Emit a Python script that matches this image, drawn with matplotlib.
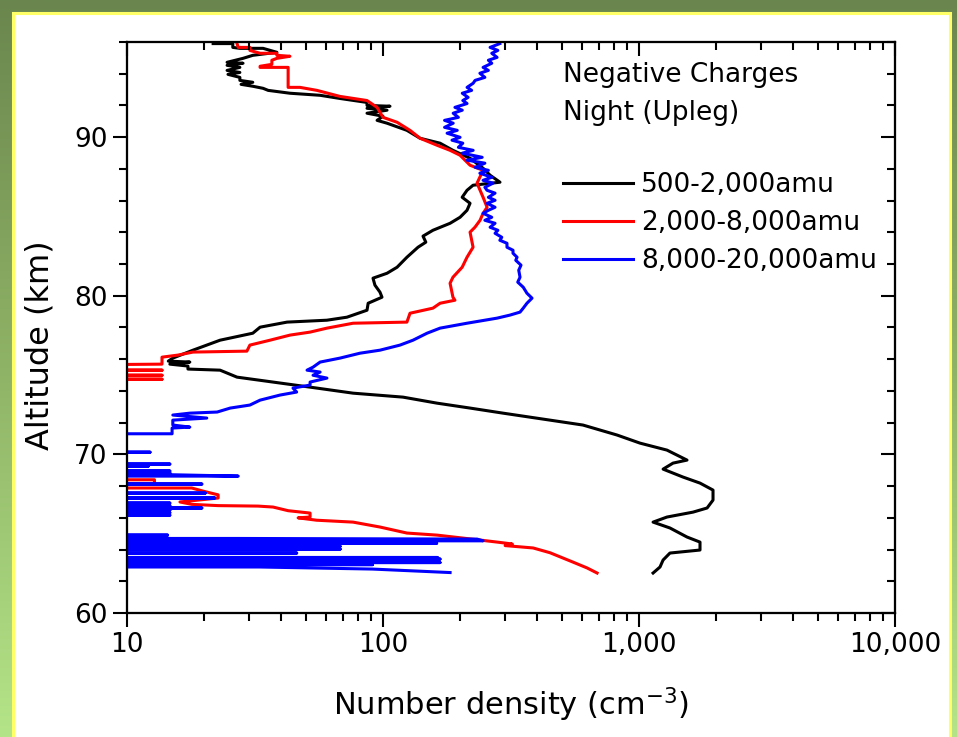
import numpy as np
import matplotlib
matplotlib.use("Agg")
import matplotlib.pyplot as plt
from matplotlib.colors import LinearSegmentedColormap
from matplotlib.patches import Rectangle
from matplotlib.ticker import FuncFormatter, MultipleLocator, NullFormatter

# (density cm^-3, altitude km); values below 10 are off-axis (drop-outs)
black_500_2000 = [
    (21.7, 95.9), (25.9, 95.9), (25.9, 95.66), (27.6, 95.6), (34.0, 95.6), (38.5, 95.35),
    (31.0, 95.16), (28.4, 94.97), (24.6, 94.72), (28.4, 94.66), (24.6, 94.53), (27.6, 94.40),
    (24.6, 94.21), (27.6, 94.08), (24.8, 93.96), (27.6, 93.77), (27.6, 93.58), (31.0, 93.46),
    (27.9, 93.33), (31.0, 93.21), (34.0, 93.08), (35.6, 92.95), (43.3, 92.77), (56.8, 92.64),
    (67.9, 92.44), (86.6, 92.19), (86.6, 92.0), (106.5, 91.95), (86.6, 91.82), (103.7, 91.70),
    (86.6, 91.51), (100, 91.32), (94.8, 91.06), (103.7, 90.88), (124, 90.43), (139.6, 89.93),
    (167.1, 89.62), (187.6, 89.17), (218.8, 88.67), (246, 88.04), (262, 87.60), (286.4, 87.16),
    (224.8, 86.97), (212.9, 86.65), (203.8, 86.21), (218.8, 85.83), (212.9, 85.39), (200, 84.95),
    (182.8, 84.57), (156.7, 84.13), (143.3, 83.76), (147, 83.38), (137, 83.06), (124, 82.43),
    (113.5, 81.80), (103.7, 81.42), (91.4, 81.11), (93, 80.67), (97.3, 80.23), (99.1, 79.91),
    (87.5, 79.53), (86.6, 79.09), (72.3, 78.65), (60.4, 78.46), (42.2, 78.34), (33.1, 78.02),
    (31.0, 77.64), (23.1, 77.20), (18.1, 76.57), (15.1, 76.07), (14.5, 75.88), (17.6, 75.82),
    (14.7, 75.69), (17.3, 75.57), (17.3, 75.38), (23.1, 75.31), (26.9, 74.87), (51.9, 74.24),
    (76.4, 73.86), (119.7, 73.61), (162.6, 73.23), (218.8, 72.92), (294.4, 72.60), (449, 72.16),
    (604, 71.85), (821, 71.22), (1009, 70.71), (1286, 70.27), (1540, 69.64), (1358, 69.45),
    (1242, 69.07), (1486, 68.57), (1731, 68.19), (1946, 67.75), (1946, 67.12), (1845, 66.62),
    (1626, 66.36), (1286, 66.05), (1135, 65.73), (1321, 65.36), (1540, 64.79), (1731, 64.47),
    (1731, 63.97), (1321, 63.78), (1242, 63.34), (1208, 62.90), (1135, 62.52),
]

red_2000_8000 = [
    (26.9, 95.9), (27.2, 95.66), (30.2, 95.66), (30.2, 95.47), (33.1, 95.29), (38.5, 95.29),
    (38.5, 95.16), (43.3, 95.10), (38.5, 94.97), (36.8, 94.85), (36.8, 94.59), (33.1, 94.47),
    (33.1, 94.40), (42.6, 94.40), (42.6, 93.14), (47.4, 93.14), (55.2, 92.95), (67.9, 92.57),
    (86.6, 92.31), (94.8, 91.88), (100, 91.25), (113.5, 90.94), (127.5, 90.43), (139.6, 89.93),
    (162.6, 89.49), (182.8, 89.17), (200, 88.86), (218.8, 88.23), (246, 87.91), (233, 87.10),
    (246, 86.21), (255, 85.58), (246, 85.20), (239.4, 84.76), (228.6, 84.32), (218.8, 84.01),
    (224.8, 83.06), (212.9, 82.43), (203.8, 81.80), (187.6, 81.17), (182.8, 80.79), (187.6, 79.91),
    (191, 79.72), (167.1, 79.53), (156.7, 79.22), (127.5, 78.90), (124, 78.34), (76.4, 78.27),
    (60.4, 77.96), (51.9, 77.71), (43.3, 77.52), (36.2, 77.20), (30.2, 76.89), (29.4, 76.51),
    (18.1, 76.45), (15.8, 76.26), (13.7, 76.13), (13.7, 75.69), (5, 75.63),
    (5, 75.31), (13.7, 75.31), (5, 75.31), (5, 74.99), (13.7, 74.99), (5, 74.99),
    (5, 74.74), (13.7, 74.74), (5, 74.74),
    (5, 68.40), (12.8, 68.40), (12.8, 68.15), (5, 68.15), (5, 67.88), (17.9, 67.88),
    (20.2, 67.65), (22.7, 67.45), (22.7, 67.25), (16.1, 67.0), (17.9, 66.85), (22.7, 66.77),
    (32.5, 66.74), (37.2, 66.68), (42.6, 66.45), (51.9, 66.30), (51.9, 66.05), (46.6, 66.0),
    (55, 65.85), (76.4, 65.73), (97.3, 65.42), (124, 65.04), (162.6, 64.91), (239, 64.60),
    (286, 64.45), (320, 64.35), (300, 64.25), (386, 64.10), (449, 63.80), (552, 63.21),
    (627, 62.84), (686, 62.52),
]

blue_8000_20000 = [
    (286, 95.9), (262, 95.66), (281, 95.47), (266, 95.29), (279, 95.03), (258, 94.85),
    (266, 94.66), (246, 94.40), (258, 94.21), (239, 94.03), (250, 93.77), (229, 93.58),
    (225, 93.40), (213, 93.14), (222, 92.95), (204, 92.77), (215, 92.51), (205, 92.31),
    (213, 92.12), (191, 91.88), (204, 91.70), (188, 91.51), (197, 91.25), (174, 91.06),
    (188, 90.88), (174, 90.62), (195, 90.43), (178, 90.25), (200, 89.99), (186, 89.81),
    (205, 89.62), (197, 89.36), (225, 89.17), (204, 88.99), (244, 88.73), (213, 88.55),
    (250, 88.36), (229, 88.10), (258, 87.91), (239, 87.73), (266, 87.47), (246, 87.28),
    (269, 87.10), (250, 86.84), (255, 86.65), (274, 86.47), (258, 86.21), (274, 86.02),
    (255, 85.83), (274, 85.58), (258, 85.39), (246, 85.20), (266, 84.95), (250, 84.76),
    (274, 84.57), (262, 84.32), (281, 84.13), (274, 83.94), (291, 83.69), (286, 83.50),
    (305, 83.31), (305, 83.06), (322, 82.87), (322, 82.68), (334, 82.43), (330, 82.24),
    (346, 81.93), (339, 81.61), (343, 81.17), (336, 80.86), (353, 80.54), (365, 80.16),
    (382, 79.85), (365, 79.53), (353, 79.22), (343, 78.97), (313, 78.78), (279, 78.59),
    (212.9, 78.27), (167.1, 77.96), (148.6, 77.64), (131, 77.20), (116.5, 76.89), (97.3, 76.57),
    (81.3, 76.38), (67.9, 76.07), (56.8, 75.82), (53.3, 75.50), (50.5, 75.31), (56.8, 75.19),
    (53.3, 74.99), (60.4, 74.81), (51.9, 74.56), (51.9, 74.37), (44.5, 74.18), (46, 73.93),
    (39.6, 73.74), (33.1, 73.42), (30.2, 73.11), (25.3, 72.92), (22.5, 72.67), (17.6, 72.60),
    (15.1, 72.48), (20.5, 72.29), (15.1, 72.16), (15.1, 71.85), (17.6, 71.72), (15.0, 71.66),
    (15.0, 71.30), (5, 71.30),
    (5, 70.14), (12.3, 70.14), (5, 70.14), (5, 69.39), (14.7, 69.39), (5, 69.39),
    (5, 69.26), (12.1, 69.26), (5, 69.26), (5, 68.95), (14.7, 68.95), (5, 68.95),
    (5, 68.84), (14.7, 68.84), (5, 68.84), (5, 68.72), (14.7, 68.72), (27.2, 68.63), (5, 68.63),
    (5, 68.13), (19.6, 68.13), (5, 68.13), (5, 67.56), (20.2, 67.56), (5, 67.56),
    (5, 67.25), (22.0, 67.25), (5, 67.25), (5, 66.93), (14.7, 66.93), (5, 66.93),
    (5, 66.78), (14.7, 66.78), (5, 66.78), (5, 66.62), (19.6, 66.62), (5, 66.62),
    (5, 66.47), (14.7, 66.47), (5, 66.47), (5, 66.32), (14.7, 66.32), (5, 66.32),
    (5, 66.17), (14.7, 66.17), (5, 66.17),
    (5, 64.91), (14.4, 64.91), (5, 64.91), (5, 64.70), (27, 64.70), (233, 64.66), (246, 64.55),
    (5, 64.55), (5, 64.40), (162, 64.40), (5, 64.40), (5, 64.20), (68, 64.20), (5, 64.20),
    (5, 64.03), (68, 64.03), (5, 64.03), (5, 63.78), (46, 63.78), (5, 63.78),
    (5, 63.50), (163, 63.50), (5, 63.50), (5, 63.40), (167, 63.40), (5, 63.40),
    (5, 63.30), (160, 63.30), (5, 63.30), (5, 63.18), (167, 63.18), (5, 63.18),
    (5, 63.05), (91, 63.05), (5, 63.05), (5, 62.90), (33, 62.90), (91, 62.77), (182.8, 62.55),
]

series = [
    (black_500_2000, "#000000", "500-2,000amu"),
    (red_2000_8000, "#ff0000", "2,000-8,000amu"),
    (blue_8000_20000, "#0000ff", "8,000-20,000amu"),
]

W, H = 957, 737
fig = plt.figure(figsize=(W / 100, H / 100), dpi=100)

# green slide background with white panel and yellow border
bg = fig.add_axes([0, 0, 1, 1], zorder=-10)
cmap = LinearSegmentedColormap.from_list("slide", ["#6a864e", "#8fb366", "#b4e488"])
bg.imshow(np.linspace(0, 1, 256).reshape(-1, 1), cmap=cmap, aspect="auto", extent=[0, 1, 0, 1])
bg.axis("off")
panel = Rectangle((12.5 / W, -0.02), (949.5 - 12.5) / W, (H - 12.5) / H + 0.02,
                  transform=fig.transFigure, facecolor="white", edgecolor="#ffff66",
                  linewidth=2.2, zorder=-5)
fig.add_artist(panel)

ax = fig.add_axes([127 / W, 1 - 613 / H, 768 / W, 571 / H])
for pts, color, label in series:
    d, a = zip(*pts)
    ax.plot(d, a, color=color, lw=2.2, label=label)

ax.set_xscale("log")
ax.set_xlim(10, 10000)
ax.set_ylim(60, 96)
ax.xaxis.set_major_formatter(FuncFormatter(lambda v, p: f"{v:,.0f}"))
ax.xaxis.set_minor_formatter(NullFormatter())
ax.yaxis.set_major_locator(MultipleLocator(10))
ax.yaxis.set_minor_locator(MultipleLocator(2))
ax.tick_params(which="both", direction="out", width=1.5, labelsize=19, pad=4)
ax.tick_params(which="major", length=10)
ax.tick_params(which="minor", length=6)
for s in ax.spines.values():
    s.set_linewidth(1.5)

# mirrored inward ticks on top and right
axt = ax.twiny()
axt.set_xscale("log")
axt.set_xlim(10, 10000)
axt.tick_params(which="both", direction="in", width=1.5, labeltop=False)
axt.tick_params(which="major", length=10)
axt.tick_params(which="minor", length=6)
axr = ax.twinx()
axr.set_ylim(60, 96)
axr.yaxis.set_major_locator(MultipleLocator(10))
axr.yaxis.set_minor_locator(MultipleLocator(2))
axr.tick_params(which="both", direction="in", width=1.5, labelright=False)
axr.tick_params(which="major", length=10)
axr.tick_params(which="minor", length=6)
for a_ in (axt, axr):
    for s in a_.spines.values():
        s.set_linewidth(1.5)

ax.set_xlabel(r"Number density (cm$^{-3}$)", fontsize=22)
ax.set_ylabel("Altitude (km)", fontsize=23)
ax.xaxis.set_label_coords(0.5, (613 - 686) / 571, transform=ax.transAxes)
ax.yaxis.set_label_coords((56 - 127) / 768, (613 - 345) / 571, transform=ax.transAxes)

fig.text(563 / W, 1 - 75 / H, "Negative Charges", fontsize=19, va="center", ha="left")
fig.text(563 / W, 1 - 113 / H, "Night (Upleg)", fontsize=19, va="center", ha="left")
ax.legend(loc="upper left", bbox_to_anchor=(563 / W, 1 - 172 / H), bbox_transform=fig.transFigure,
          frameon=False, fontsize=19, handlelength=2.65, handletextpad=0.3,
          labelspacing=0.46, borderpad=0, borderaxespad=0)

fig.savefig("out.png", dpi=100)
